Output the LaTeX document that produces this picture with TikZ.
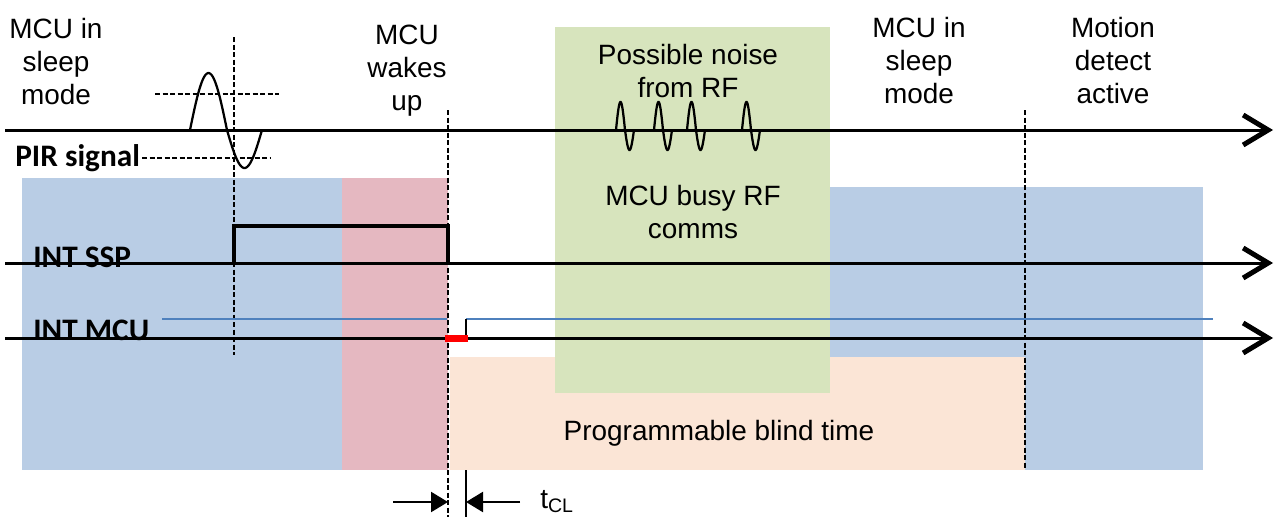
\documentclass[tikz,border=0pt]{standalone}
\usepackage{fontspec}
\setmainfont{Liberation Sans}
\newfontfamily\calibri{Carlito}
\usetikzlibrary{arrows.meta}

\definecolor{sleepblue}{HTML}{B9CDE5}
\definecolor{wakepink}{HTML}{E5B8C1}
\definecolor{rfgreen}{HTML}{D7E4BD}
\definecolor{blindpeach}{HTML}{FBE5D6}
\definecolor{intblue}{HTML}{4F81BD}

\tikzset{
  axis/.style={line width=0.6mm, -{Straight Barb[length=5mm,width=6mm,line width=1mm]}},
  guide/.style={line width=0.4mm, dash pattern=on 1mm off 0.5mm},
  wave/.style={line width=0.45mm, smooth},
  lbl/.style={font=\fontsize{15.9}{18.8}\selectfont, align=center, inner sep=0pt, anchor=north},
  sig/.style={font=\calibri\bfseries\fontsize{17.8}{20}\selectfont, inner sep=0pt, anchor=base west},
  dim/.style={line width=0.45mm, -{Triangle[length=3.4mm,width=4mm]}}
}

\begin{document}
\begin{tikzpicture}[x=0.2mm, y=-0.2mm]
            \useasboundingbox (0,0) rectangle (1277,517);
            % shaded phases
            \fill[sleepblue] (22,178) rectangle (342,470);
            \fill[sleepblue] (830,187) rectangle (1203,470);
            \fill[wakepink] (342,178) rectangle (448,470);
            \fill[blindpeach] (450,357) rectangle (1025,470);
            \fill[rfgreen] (555,27) rectangle (830,393);
            % guides
            \draw[guide] (234,37) -- (234,355);
            \draw[guide] (448,110) -- (448,517);
            \draw[guide] (1025,110) -- (1025,470);
            \draw[guide] (155,94) -- (279,94);
            \draw[guide] (142,158) -- (270,158);
            % time axes
            \coordinate (pirS) at (5,130);  \coordinate (pirE) at (1273,130);
            \coordinate (sspS) at (5,263);  \coordinate (sspE) at (1273,263);
            \coordinate (mcuS) at (5,338);  \coordinate (mcuE) at (1273,338);
            \draw[axis] (pirS) -- (pirE);
            \draw[axis] (sspS) -- (sspE);
            \draw[axis] (mcuS) -- (mcuE);
            % PIR signal and RF noise
            \draw[wave] plot[domain=0:180, samples=30] ({190+37*\x/180}, {130-57*sin(\x)})
                -- plot[domain=0:180, samples=30] ({227+35*\x/180}, {130+38*sin(\x)});
            \foreach \s in {616,654,687,742}
                \draw[wave] plot[domain=0:180, samples=20] ({\s+9*\x/180}, {130-28*sin(\x)})
                    -- plot[domain=0:180, samples=20] ({\s+9+9*\x/180}, {130+20*sin(\x)});
            % INT SSP pulse
            \draw[line width=0.8mm] (234,263) -- (234,226) -- (448,226) -- (448,263);
            % INT MCU
            \draw[intblue, line width=0.4mm] (162,319) -- (447,319);
            \draw[intblue, line width=0.4mm] (466,319) -- (1213,319);
            \draw[line width=0.4mm] (466,319) -- (466,338);
            \draw[red, line width=1.4mm] (445,338) -- (468,338);
            % t_CL
            \draw[line width=0.45mm] (466,470) -- (466,517);
            \coordinate (tclA) at (448,502);  \coordinate (tclB) at (466,502);
            \draw[dim] (393,502) -- (tclA);
            \draw[dim] (520,502) -- (tclB);
            \node[lbl, anchor=base west] (tcl) at (540,508) {t\textsubscript{CL}};
            % labels
            \node[lbl] (sleepA) at (56,18) {MCU in\\sleep\\mode};
            \node[lbl] (wake) at (407,25) {MCU\\wakes\\up};
            \node[lbl] (noise) at (688,44) {Possible noise\\from RF};
            \node[lbl] (sleepB) at (919,17) {MCU in\\sleep\\mode};
            \node[lbl] (motion) at (1113,17) {Motion\\detect\\active};
            \node[lbl] (busy) at (693,185) {MCU busy RF\\comms};
            \node[lbl] (blind) at (719,420) {Programmable blind time};
            \node[sig] (pir) at (15,166) {PIR signal};
            \node[sig] (ssp) at (33,267) {INT SSP};
            \node[sig] (mcu) at (33,340) {INT MCU};
        \end{tikzpicture}
\end{document}
